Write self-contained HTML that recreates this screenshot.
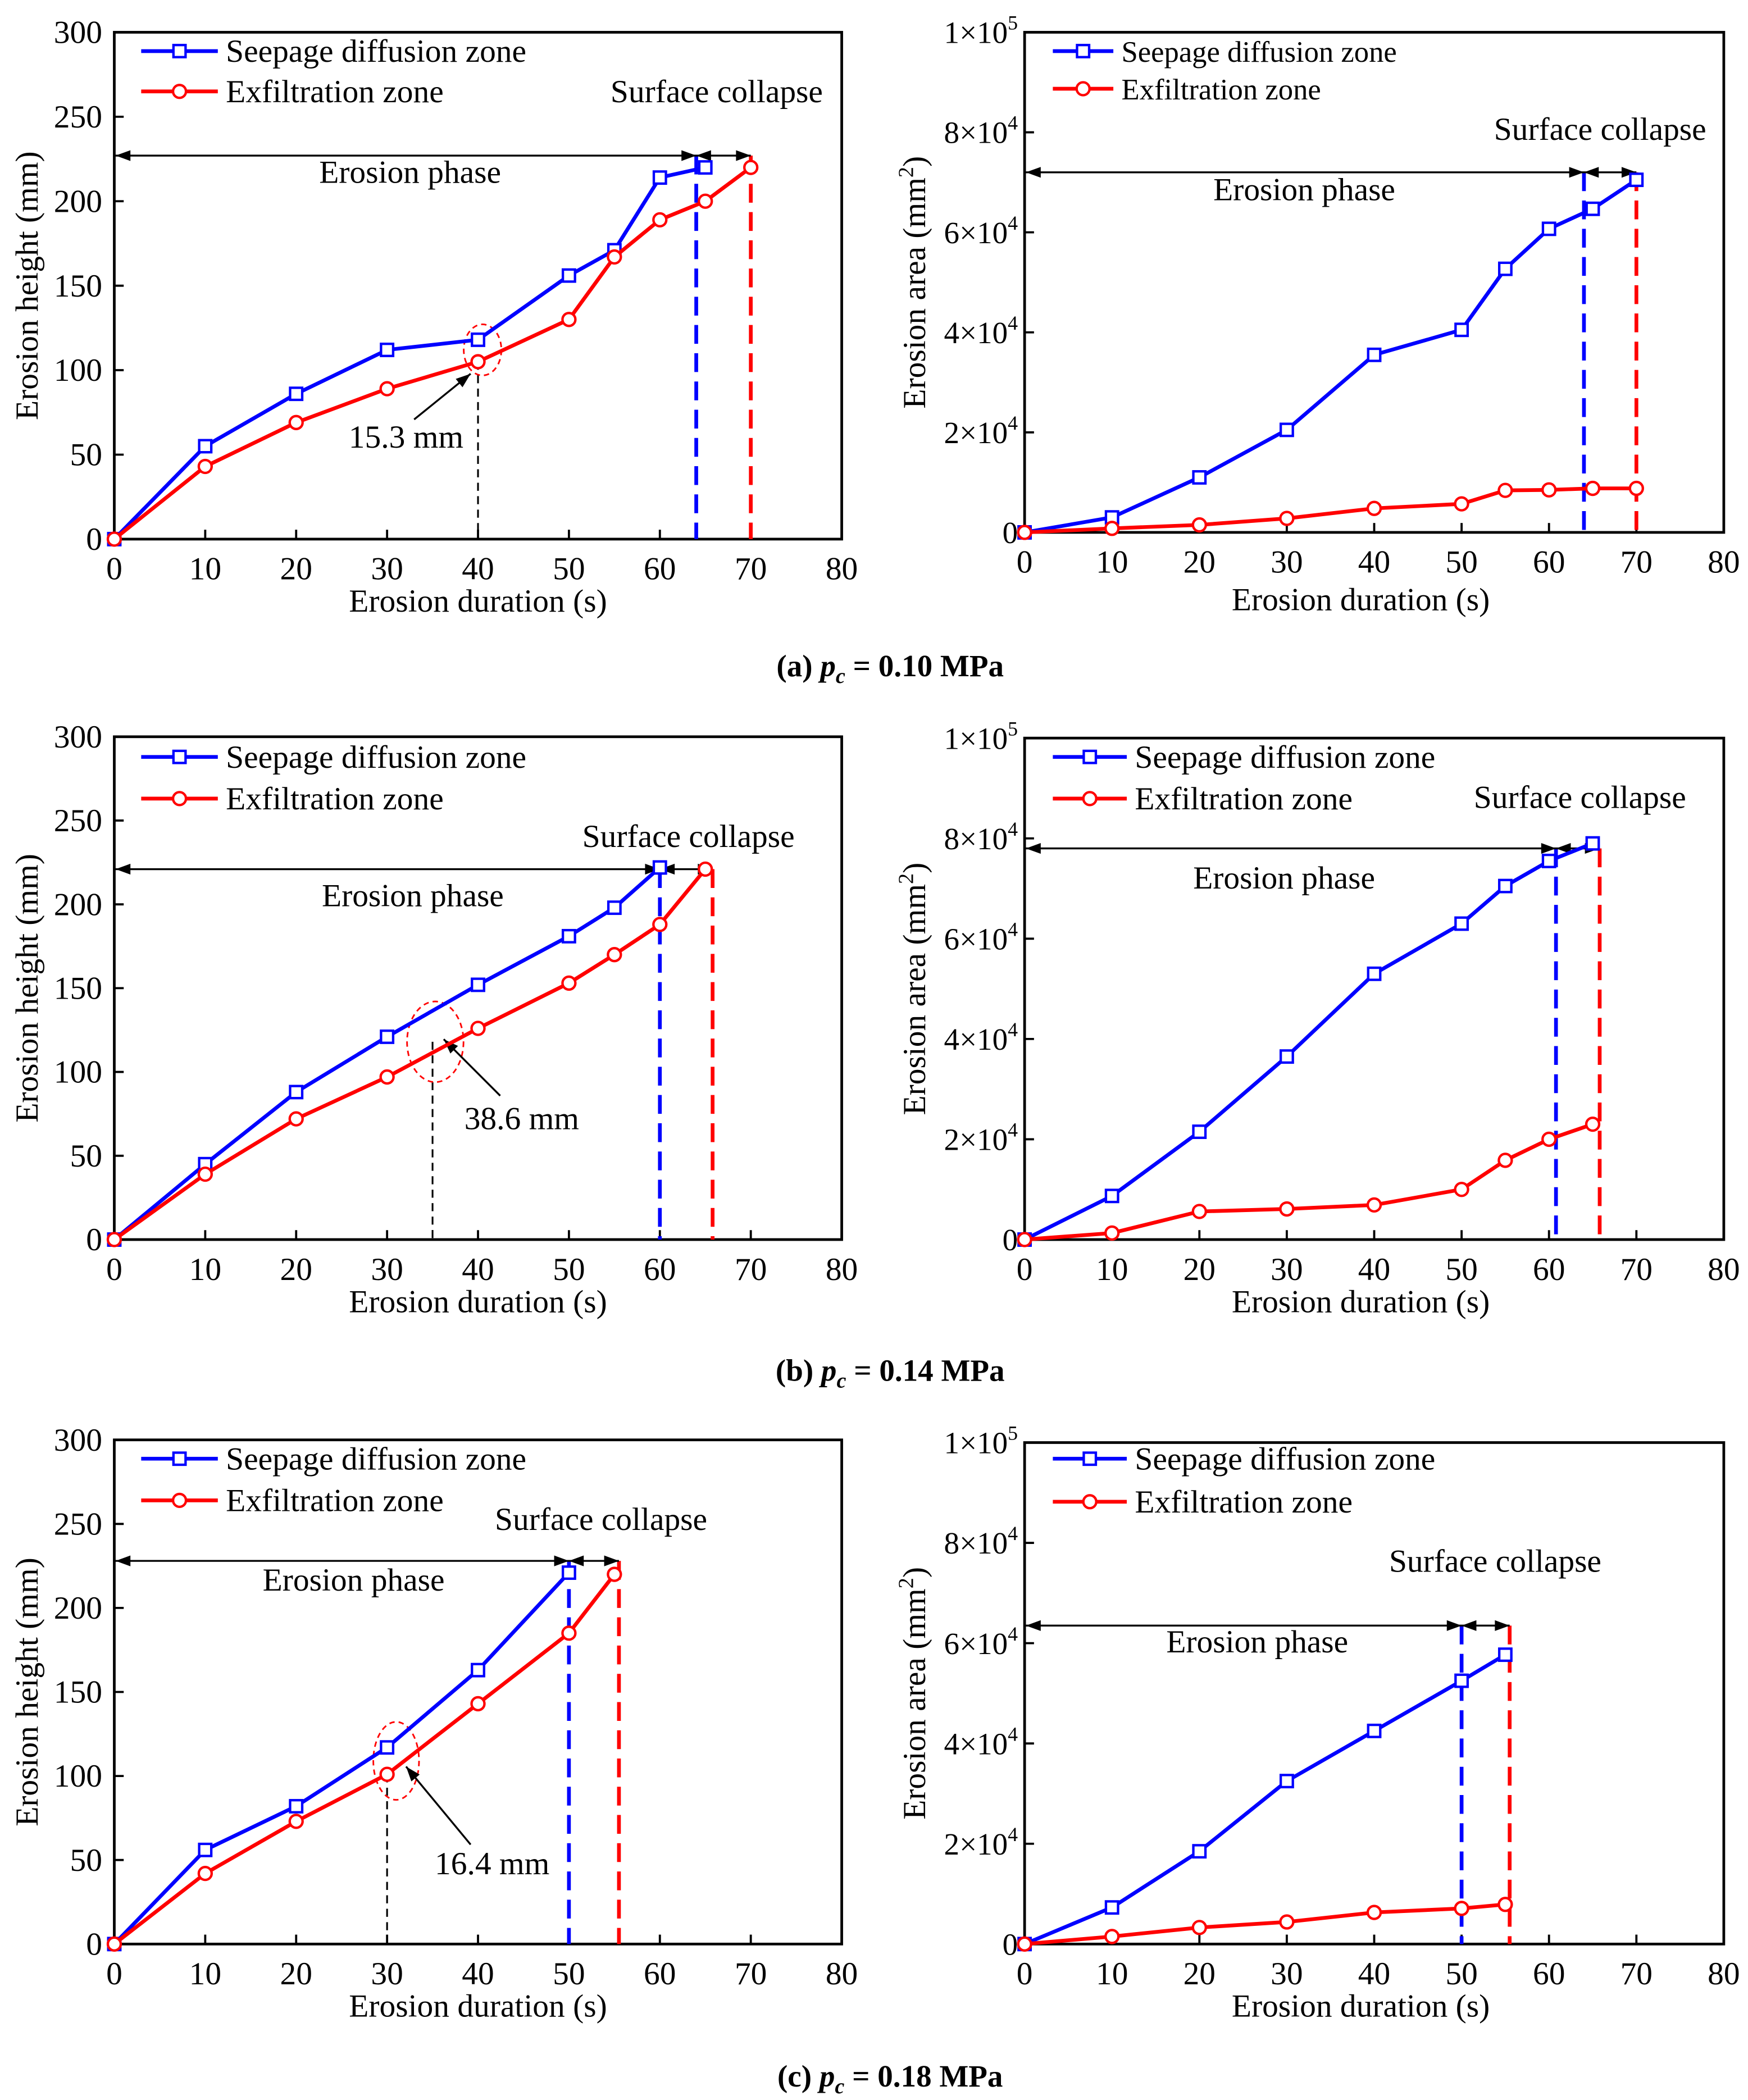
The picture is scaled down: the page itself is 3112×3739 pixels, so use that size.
<!DOCTYPE html>
<html><head><meta charset="utf-8"><style>
html,body{margin:0;padding:0;background:#fff;}
svg{display:block;font-family:"Liberation Serif","Times New Roman","DejaVu Serif",serif;}
text{font-family:"Liberation Serif","Times New Roman","DejaVu Serif",serif;fill:#000;}
</style></head><body>
<svg id="fig" width="3112" height="3739" viewBox="0 0 1300 1562" preserveAspectRatio="none" xmlns="http://www.w3.org/2000/svg" font-family="Liberation Serif, serif"></svg>
<script>
// ---- data ----
const xTicks=[0,10,20,30,40,50,60,70,80];
const hTicks=[0,50,100,150,200,250,300];
const aTicks=[0,2,4,6,8,10];
const aTickLabels=["0","2×10","4×10","6×10","8×10","1×10"];
const aTickExp=["","4","4","4","4","5"];

const aHX=[0,10,20,30,40,50,55,60,65];
const aHBlue=[0,55,86,112,118,156,171,214,220];
const aHRedX=[0,10,20,30,40,50,55,60,65,70];
const aHRed=[0,43,69,89,105,130,167,189,200,220];
const aAX=[0,10,20,30,40,50,55,60,65,70];
const aABlue=[0,3000,11000,20500,35500,40500,52700,60700,64700,70500];
const aARed=[0,800,1500,2800,4800,5700,8400,8500,8800,8800];

const bHX=[0,10,20,30,40,50,55,60];
const bHBlue=[0,45,88,121,152,181,198,222];
const bHRedX=[0,10,20,30,40,50,55,60,65];
const bHRed=[0,39,72,97,126,153,170,188,221];
const bAX=[0,10,20,30,40,50,55,60,65];
const bABlue=[0,8700,21500,36500,53000,63000,70500,75500,79000];
const bARed=[0,1300,5600,6100,6900,10000,15800,20000,23000];

const cHX=[0,10,20,30,40,50];
const cHBlue=[0,56,82,117,163,221];
const cHRedX=[0,10,20,30,40,50,55];
const cHRed=[0,42,73,101,143,185,220];
const cAX=[0,10,20,30,40,50,55];
const cABlue=[0,7300,18500,32500,42500,52500,57700];
const cARed=[0,1500,3300,4400,6300,7100,7900];

const NS="http://www.w3.org/2000/svg";
const svg=document.getElementById('fig');
const FF='Liberation Serif, Times New Roman, serif';
function el(tag,attrs,parent){const e=document.createElementNS(NS,tag);for(const k in attrs)e.setAttribute(k,attrs[k]);if(tag==='text')e.setAttribute('font-family',FF);(parent||svg).appendChild(e);return e;}

function panel(o){
  const g=el('g',{});
  
  
  const L=o.x0,R=o.x1,T=o.yT,B=o.yB;
  const sx=v=>L+(v/80)*(R-L);
  const sy=v=>B-(v/o.ymax)*(B-T);
  const fr=el('rect',{x:L,y:T,width:R-L,height:B-T,fill:'none',stroke:'#000','stroke-width':2},g);
  
  
  xTicks.forEach(t=>{
    el('line',{x1:sx(t),x2:sx(t),y1:B,y2:B-7,stroke:'#000','stroke-width':1.6},g);
    const tx=el('text',{x:sx(t),y:B+30,'font-size':24,'text-anchor':'middle'},g);
    tx.textContent=t;
    
    
  });
  if(o.area){
    aTicks.forEach((t,i)=>{
      const v=t*10000;
      el('line',{x1:L,x2:L+7,y1:sy(v),y2:sy(v),stroke:'#000','stroke-width':1.6},g);
      const tx=el('text',{x:L-5,y:sy(v)+8,'font-size':23,'text-anchor':'end'},g);
      if(aTickExp[i]){tx.textContent=aTickLabels[i];const ts=el('tspan',{dy:-10,'font-size':15},tx);ts.textContent=aTickExp[i];}
      else tx.textContent=aTickLabels[i];
      
      
    });
  } else {
    hTicks.forEach(t=>{
      el('line',{x1:L,x2:L+7,y1:sy(t),y2:sy(t),stroke:'#000','stroke-width':1.6},g);
      const tx=el('text',{x:L-9,y:sy(t)+8,'font-size':24,'text-anchor':'end'},g);
      tx.textContent=t;
      
      
    });
  }
  const xt=el('text',{x:(L+R)/2+(o.area?-10:0),y:B+o.xtDy,'font-size':24,'text-anchor':'middle'},g);
  xt.textContent='Erosion duration (s)';
  
  
  const yx=o.area?L-74:L-57;
  const yt=el('text',{x:0,y:0,'font-size':24,'text-anchor':'middle',transform:`translate(${yx},${(T+B)/2}) rotate(-90)`},g);
  if(o.area){yt.textContent='Erosion area (mm';const s=el('tspan',{dy:-9,'font-size':16},yt);s.textContent='2';const s2=el('tspan',{dy:9},yt);s2.textContent=')';}
  else yt.textContent='Erosion height (mm)';
  
  
  [[o.blueEnd,'#0000ff'],[o.redEnd,'#ff0000']].forEach(([xv,c])=>{
    const dl=el('line',{x1:sx(xv),x2:sx(xv),y1:sy(o.arrowY),y2:B,stroke:c,'stroke-width':2.8,'stroke-dasharray':'14,7'},g);
    
    
  });
  const ay=sy(o.arrowY);
  const al=el('line',{x1:L,x2:sx(o.redEnd),y1:ay,y2:ay,stroke:'#000','stroke-width':1.4},g);
  
  
  function head(x,dir){el('polygon',{points:`${x},${ay} ${x-dir*11},${ay-4} ${x-dir*11},${ay+4}`,fill:'#000'},g);}
  head(L+1,-1);head(sx(o.blueEnd),1);head(sx(o.blueEnd),-1);head(sx(o.redEnd),1);
  const ep=el('text',{x:o.epX,y:o.epY,'font-size':24,'text-anchor':'middle'},g);
  ep.textContent='Erosion phase';
  
  
  const sc=el('text',{x:o.scX,y:o.scY,'font-size':24,'text-anchor':'middle'},g);
  sc.textContent='Surface collapse';
  
  
  if(o.ann){
    const a=o.ann;
    const vl=el('line',{x1:sx(a.x),x2:sx(a.x),y1:sy(a.vTop),y2:B,stroke:'#000','stroke-width':1.3,'stroke-dasharray':'6,4'},g);
    
    
    const ell=el('ellipse',{cx:sx(a.ex),cy:sy(a.ey),rx:a.rx,ry:a.ry,fill:'none',stroke:'#ff0000','stroke-width':1.2,'stroke-dasharray':'4,3'},g);
    
    
    el('line',{x1:a.lx1,y1:a.ly1,x2:a.lx2,y2:a.ly2,stroke:'#000','stroke-width':1.4},g);
    const dx=a.lx2-a.lx1,dy=a.ly2-a.ly1,len=Math.hypot(dx,dy),ux=dx/len,uy=dy/len;
    el('polygon',{points:`${a.lx2},${a.ly2} ${a.lx2-ux*11-uy*4},${a.ly2-uy*11+ux*4} ${a.lx2-ux*11+uy*4},${a.ly2-uy*11-ux*4}`,fill:'#000'},g);
    const at=el('text',{x:a.tx,y:a.ty,'font-size':24,'text-anchor':'middle'},g);
    at.textContent=a.text;
    
    
  }
  function series(xs,ys,color,marker,nm){
    const sg=el('g',{},g);
    
    
    el('polyline',{points:xs.map((x,i)=>sx(x)+','+sy(ys[i])).join(' '),fill:'none',stroke:color,'stroke-width':2.8},sg);
    xs.forEach((x,i)=>{
      let m;
      if(marker==='sq') m=el('rect',{x:sx(x)-4.5,y:sy(ys[i])-4.5,width:9,height:9,fill:'#fff',stroke:color,'stroke-width':1.8},sg);
      else m=el('circle',{cx:sx(x),cy:sy(ys[i]),r:4.8,fill:'#fff',stroke:color,'stroke-width':1.8},sg);
      
      
    });
  }
  series(o.bx,o.by,'#0000ff','sq','seepage-diffusion-series');
  series(o.rx,o.ry,'#ff0000','ci','exfiltration-series');
  const lg=el('g',{},g);
  
  
  [['Seepage diffusion zone','#0000ff','sq',o.lgY1],['Exfiltration zone','#ff0000','ci',o.lgY2]].forEach(([t,c,mk,y])=>{
    const e=el('g',{},lg);
    
    
    el('line',{x1:o.lgX,x2:o.lgX+o.lgW,y1:y,y2:y,stroke:c,'stroke-width':2.8},e);
    const mx=o.lgX+o.lgW/2;
    if(mk==='sq') el('rect',{x:mx-4.5,y:y-4.5,width:9,height:9,fill:'#fff',stroke:c,'stroke-width':1.8},e);
    else el('circle',{cx:mx,cy:y,r:4.8,fill:'#fff',stroke:c,'stroke-width':1.8},e);
    const tx=el('text',{x:o.lgX+o.lgW+6,y:y+8,'font-size':o.lgFs},e);
    tx.textContent=t;
  });
}

panel({name:'panel-a-height',x0:85,x1:626,yT:24,yB:401,ymax:300,xtDy:54,bx:aHX,by:aHBlue,rx:aHRedX,ry:aHRed,blueEnd:64,redEnd:70,arrowY:227,epX:305,epY:136,scX:533,scY:76,lgX:105,lgW:57,lgY1:38,lgY2:68,lgFs:24,
  ann:{x:40,vTop:105,ex:40.5,ey:112,rx:14,ry:19,lx1:308,ly1:312,lx2:350,ly2:278,tx:302,ty:333,text:'15.3 mm'}});
panel({name:'panel-a-area',area:true,x0:762,x1:1282,yT:24,yB:396,ymax:100000,xtDy:58,bx:aAX,by:aABlue,rx:aAX,ry:aARed,blueEnd:64,redEnd:70,arrowY:72000,epX:970,epY:149,scX:1190,scY:104,lgX:783,lgW:45,lgY1:38,lgY2:66,lgFs:22});
panel({name:'panel-b-height',x0:85,x1:626,yT:548,yB:922,ymax:300,xtDy:54,bx:bHX,by:bHBlue,rx:bHRedX,ry:bHRed,blueEnd:60,redEnd:65.8,arrowY:221,epX:307,epY:674,scX:512,scY:630,lgX:105,lgW:57,lgY1:563,lgY2:594,lgFs:24,
  ann:{x:35,vTop:118,ex:35.3,ey:118,rx:21,ry:30,lx1:372,ly1:815,lx2:330,ly2:773,tx:388,ty:840,text:'38.6 mm'}});
panel({name:'panel-b-area',area:true,x0:762,x1:1282,yT:549,yB:922,ymax:100000,xtDy:54,bx:bAX,by:bABlue,rx:bAX,ry:bARed,blueEnd:60.8,redEnd:65.8,arrowY:78000,epX:955,epY:661,scX:1175,scY:601,lgX:783,lgW:55,lgY1:563,lgY2:594,lgFs:24});
panel({name:'panel-c-height',x0:85,x1:626,yT:1071,yB:1446,ymax:300,xtDy:54,bx:cHX,by:cHBlue,rx:cHRedX,ry:cHRed,blueEnd:50,redEnd:55.5,arrowY:228,epX:263,epY:1183,scX:447,scY:1138,lgX:105,lgW:57,lgY1:1085,lgY2:1116,lgFs:24,
  ann:{x:30,vTop:101,ex:31,ey:109,rx:17,ry:29,lx1:350,ly1:1372,lx2:302,ly2:1314,tx:366,ty:1394,text:'16.4 mm'}});
panel({name:'panel-c-area',area:true,x0:762,x1:1282,yT:1073,yB:1446,ymax:100000,xtDy:54,bx:cAX,by:cABlue,rx:cAX,ry:cARed,blueEnd:50,redEnd:55.5,arrowY:63500,epX:935,epY:1229,scX:1112,scY:1169,lgX:783,lgW:55,lgY1:1085,lgY2:1117,lgFs:24});

[['(a) ','0.10',503,'caption-a'],['(b) ','0.14',1027,'caption-b'],['(c) ','0.18',1552,'caption-c']].forEach(([a,v,y,nm])=>{
  const t=el('text',{x:662,y:y,'font-size':23,'font-weight':'bold','text-anchor':'middle'});
  
  
  const s1=el('tspan',{},t);s1.textContent=a;
  const s2=el('tspan',{'font-style':'italic'},t);s2.textContent='p';
  const s3=el('tspan',{'font-style':'italic','font-size':16,dy:5},t);s3.textContent='c';
  const s4=el('tspan',{dy:-5},t);s4.textContent=' = '+v+' MPa';
});
</script>
</body></html>
